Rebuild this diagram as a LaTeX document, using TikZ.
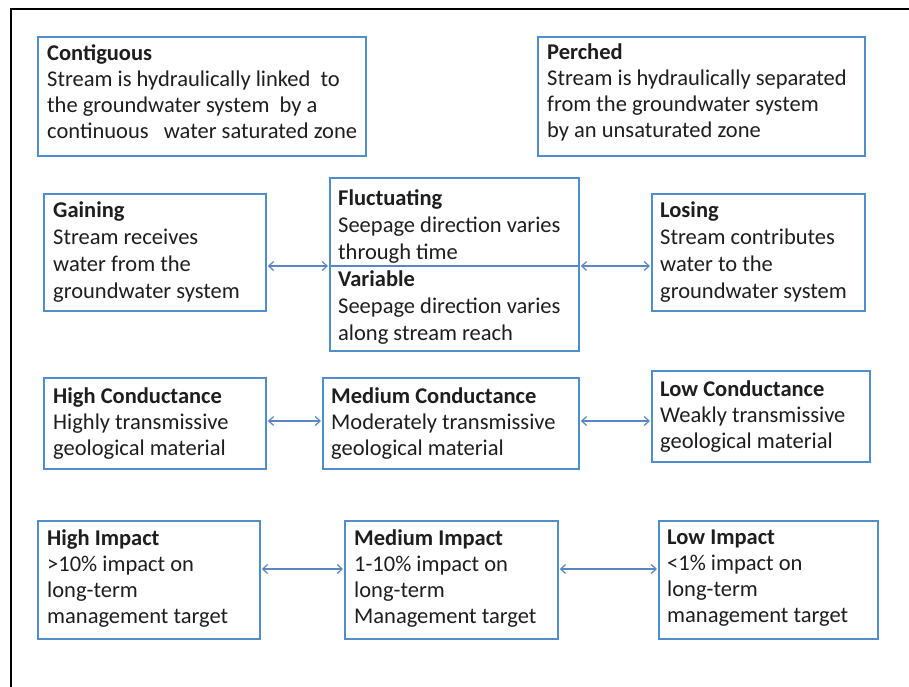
\documentclass[tikz,border=0pt]{standalone}
\usepackage{fontspec}
\setmainfont{Carlito}
\usetikzlibrary{arrows.meta,calc}
\definecolor{boxblue}{HTML}{4F8DCB}
\definecolor{arrblue}{HTML}{5B86C4}
\definecolor{txtgray}{HTML}{1E1E1E}
\tikzset{
  bx/.style={draw=boxblue, line width=1.8pt, fill=white, inner sep=0pt},
  txt/.style={anchor=north west, inner sep=0pt, align=left, text=txtgray,
    font=\fontsize{22.5}{26}\selectfont},
  txtw/.style={txt, font=\fontsize{22.5}{27}\selectfont},
  arr/.style={draw=arrblue, line width=1.2pt, {Straight Barb[length=5pt,width=9pt]}-{Straight Barb[length=5pt,width=9pt]}, shorten <=1pt, shorten >=1pt},
  frame/.style={draw=black, line width=2.4pt}
}
\newcommand{\mkbox}[5]{%
  \path (#2,#3) coordinate (#1-nw) (#4,#5) coordinate (#1-se);
  \node[bx, minimum width=#4pt-#2pt, minimum height=#5pt-#3pt, anchor=north west] (#1) at (#1-nw) {};}
\begin{document}
\begin{tikzpicture}[x=1pt,y=-1pt]
\useasboundingbox (0,0) rectangle (909,687);
\fill[white] (0,0) rectangle (909,687);
\coordinate (fa) at (11,687);
\coordinate (fb) at (11,9);
\coordinate (fc) at (909,9);
\draw[frame] (fa) -- (fb) -- (fc);
% boxes
\mkbox{contig}{37}{36}{365}{155}
\mkbox{perched}{537}{36}{864}{155}
\mkbox{gaining}{43}{193}{265}{310}
\mkbox{fluct}{329}{177}{578}{350}
\mkbox{losing}{651}{193}{864}{310}
\mkbox{highc}{43}{377}{265}{468}
\mkbox{medc}{322}{377}{578}{468}
\mkbox{lowc}{651}{370}{869}{461}
\mkbox{highi}{37}{520}{259}{638}
\mkbox{medi}{344}{520}{557}{638}
\mkbox{lowi}{658}{520}{877}{638}
% texts
\node[txt] (t-contig) at (47,44) {\textbf{Contiguous}\\Stream is hydraulically linked\ \ to\\the groundwater system\ \ by a\\continuous\ \ \ water saturated zone};
\node[txt] (t-perched) at (547,44) {\textbf{Perched}\\Stream is hydraulically separated\\from the groundwater system\\by an unsaturated zone};
\node[txtw] (t-gaining) at (53,202) {\textbf{Gaining}\\Stream receives\\water from the\\groundwater system};
\node[txtw] (t-fluct) at (338,189) {\textbf{Fluctuating}\\Seepage direction varies\\through time\\\textbf{Variable}\\Seepage direction varies\\along stream reach};
\node[txtw] (t-losing) at (660,202) {\textbf{Losing}\\Stream contributes\\water to the\\groundwater system};
\node[txt] (t-highc) at (53,388) {\textbf{High Conductance}\\Highly transmissive\\geological material};
\node[txt] (t-medc) at (331,388) {\textbf{Medium Conductance}\\Moderately transmissive\\geological material};
\node[txt] (t-lowc) at (660,381) {\textbf{Low Conductance}\\Weakly transmissive\\geological material};
\node[txt] (t-highi) at (47,530) {\textbf{High Impact}\\>10\% impact on\\long-term\\management target};
\node[txt] (t-medi) at (354,530) {\textbf{Medium Impact}\\1-10\% impact on\\long-term\\Management target};
\node[txt] (t-lowi) at (667,530) {\textbf{Low Impact}\\<1\% impact on\\long-term\\management target};
% connectors
\coordinate (r2) at (0,266);
\coordinate (r3) at (0,421);
\coordinate (r4) at (0,569);
\draw[arr] (gaining.east |- r2) -- (fluct.west |- r2);
\draw[arr] (fluct.east |- r2) -- (losing.west |- r2);
\draw[draw=arrblue, line width=1.2pt] (fluct.west |- r2) -- (fluct.east |- r2);
\draw[arr] (highc.east |- r3) -- (medc.west |- r3);
\draw[arr] (medc.east |- r3) -- (lowc.west |- r3);
\draw[arr] (highi.east |- r4) -- (medi.west |- r4);
\draw[arr] (medi.east |- r4) -- (lowi.west |- r4);
\end{tikzpicture}
\end{document}
